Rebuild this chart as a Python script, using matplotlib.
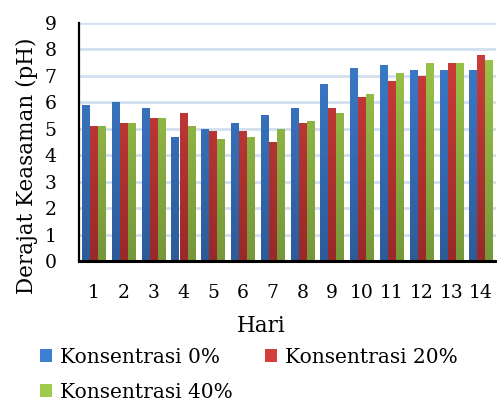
import matplotlib.pyplot as plt
import numpy as np
from matplotlib.colors import LinearSegmentedColormap

hari = [str(i) for i in range(1, 15)]
konsentrasi_0 = [5.9, 6.0, 5.8, 4.7, 5.0, 5.2, 5.5, 5.8, 6.7, 7.3, 7.4, 7.2, 7.2, 7.2]
konsentrasi_20 = [5.1, 5.2, 5.4, 5.6, 4.9, 4.9, 4.5, 5.2, 5.8, 6.2, 6.8, 7.0, 7.5, 7.8]
konsentrasi_40 = [5.1, 5.2, 5.4, 5.1, 4.6, 4.7, 5.0, 5.3, 5.6, 6.3, 7.1, 7.5, 7.5, 7.6]
labels = ['Konsentrasi 0%', 'Konsentrasi 20%', 'Konsentrasi 40%']
# (top colour, bottom colour) for each series
colors = [('#3d7fd0', '#2d5b98'), ('#d23f3b', '#982a29'), ('#9fca4b', '#76973a')]

plt.rcParams['font.family'] = ['DejaVu Serif']

fig = plt.figure(figsize=(4.97, 4.01), dpi=100)
ax = fig.add_axes([0.159, 0.349, 0.839, 0.594])

x = np.arange(1, 15)
w = 0.27
grad = np.linspace(0, 1, 256).reshape(-1, 1)
handles = []
for i, (vals, lab, (top, bot)) in enumerate(zip([konsentrasi_0, konsentrasi_20, konsentrasi_40], labels, colors)):
    cmap = LinearSegmentedColormap.from_list('g%d' % i, [bot, top])
    bars = ax.bar(x + (i - 1) * w, vals, w * 0.93, color=top, label=lab, zorder=3)
    # vertical gradient fill, clipped to each bar
    for b in bars:
        bx = b.get_x()
        bw = b.get_width()
        im = ax.imshow(grad, cmap=cmap, origin='lower', aspect='auto',
                       extent=[bx, bx + bw, 0, 9], zorder=3.5)
        im.set_clip_path(b)
    handles.append(bars)

ax.set_xlim(0.5, 14.5)
ax.set_ylim(0, 9)
ax.set_yticks(range(10))
ax.set_xticks(x)
ax.set_xticklabels(hari)
ax.grid(axis='y', color='#d3dff0', linewidth=2, zorder=0)
for s in ['top', 'right']:
    ax.spines[s].set_visible(False)
ax.spines['bottom'].set_linewidth(2.2)
ax.spines['bottom'].set_zorder(5)
ax.spines['left'].set_linewidth(1.6)
ax.tick_params(axis='y', length=0, labelsize=13.5, pad=16)
ax.tick_params(axis='x', length=0, labelsize=13.5, pad=16.5)

fig.text(261 / 497, 1 - 326 / 401, 'Hari', fontsize=15.5, ha='center', va='center')
fig.text(27 / 497, 1 - 166 / 401, 'Derajat Keasaman (pH)', fontsize=15.5,
         rotation=90, ha='center', va='center')

order = [0, 2, 1]
fig.legend([handles[k] for k in order], [labels[k] for k in order],
           loc='upper left', bbox_to_anchor=(0.08, 0.133), ncol=2, frameon=False,
           fontsize=14.5, handlelength=0.6, handleheight=0.6, handletextpad=0.4,
           columnspacing=1.6, labelspacing=0.8, borderpad=0, borderaxespad=0)

fig.savefig('out.png', dpi=100)
